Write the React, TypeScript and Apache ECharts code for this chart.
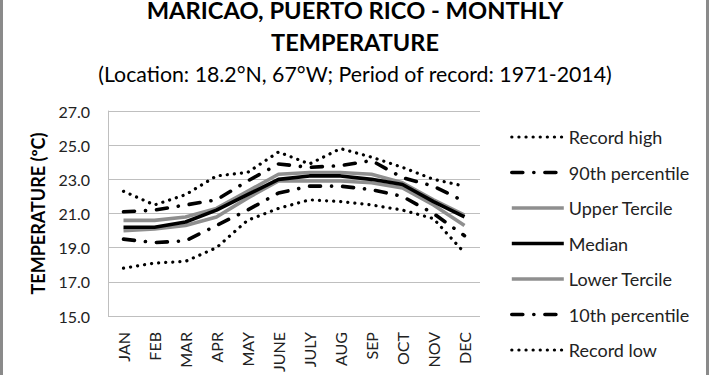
import React, { useEffect, useRef } from "react";
import * as echarts from "echarts";

const categories = ["JAN", "FEB", "MAR", "APR", "MAY", "JUNE", "JULY", "AUG", "SEP", "OCT", "NOV", "DEC"];
const recordHigh = [22.3, 21.5, 22.1, 23.2, 23.4, 24.6, 23.9, 24.8, 24.3, 23.7, 23.0, 22.6];
const p90 = [21.1, 21.2, 21.5, 21.8, 22.9, 23.9, 23.7, 23.8, 24.1, 23.1, 22.6, 21.7];
const upperTercile = [20.6, 20.6, 20.8, 21.3, 22.3, 23.3, 23.4, 23.4, 23.3, 22.8, 21.8, 20.9];
const median = [20.2, 20.2, 20.5, 21.2, 22.1, 23.0, 23.2, 23.2, 23.0, 22.7, 21.7, 20.8];
const lowerTercile = [20.0, 20.1, 20.3, 20.8, 21.9, 22.9, 22.9, 22.9, 22.8, 22.5, 21.5, 20.3];
const p10 = [19.5, 19.3, 19.4, 20.3, 21.2, 22.2, 22.6, 22.6, 22.4, 22.0, 21.0, 19.7];
const recordLow = [17.8, 18.1, 18.2, 19.0, 20.6, 21.3, 21.8, 21.7, 21.5, 21.2, 20.7, 18.7];

const titleLine1 = "MARICAO, PUERTO RICO - MONTHLY";
const titleLine2 = "TEMPERATURE";
const subtitle = "(Location: 18.2°N, 67°W; Period of record: 1971-2014)";
const yAxisTitle = "TEMPERATURE (ºC)";

const FONT = "Lato, 'Open Sans', sans-serif";

export default function App() {
  const ref = useRef<HTMLDivElement>(null);
  useEffect(() => {
    if (!ref.current) return;
    const chart = echarts.init(ref.current, undefined, { renderer: "svg" });
    const dotted = { type: [0.1, 7], cap: "round", width: 3.2, color: "#000" };
    const dashDot = { type: [11, 11, 0.1, 11], cap: "round", width: 3.6, color: "#000" };
    const grayLine = { type: "solid", width: 3.6, color: "#8f8f8f" };
    const blackLine = { type: "solid", width: 3.6, color: "#000" };
    const mk = (name: string, data: number[], ls: any, z: number) => ({
      name,
      type: "line",
      data,
      symbol: "none",
      lineStyle: ls,
      itemStyle: { color: ls.color },
      z,
    });
    chart.setOption({
      animation: false,
      textStyle: { fontFamily: FONT },
      grid: { left: 108, right: 230, top: 111, bottom: 42, containLabel: false },
      xAxis: {
        type: "category",
        data: categories,
        boundaryGap: true,
        axisLine: { show: false },
        axisTick: { show: false },
        axisLabel: { rotate: 90, margin: 16, fontSize: 16, color: "#222", fontFamily: FONT },
        splitLine: { show: false },
      },
      yAxis: {
        type: "value",
        min: 15,
        max: 27,
        interval: 2,
        name: yAxisTitle,
        nameLocation: "middle",
        nameGap: 60,
        nameTextStyle: { fontSize: 18, fontWeight: "bold", color: "#000", fontFamily: FONT },
        axisLine: { show: true, lineStyle: { color: "#bfbfbf", width: 1 } },
        axisTick: { show: false },
        axisLabel: {
          margin: 18,
          fontSize: 16,
          color: "#222",
          fontFamily: FONT,
          formatter: (v: number) => v.toFixed(1),
        },
        splitLine: { show: true, lineStyle: { color: "#bfbfbf", width: 1.2 } },
      },
      legend: {
        orient: "vertical",
        left: 505,
        top: 123,
        itemWidth: 52,
        itemHeight: 14,
        itemGap: 17.5,
        itemStyle: { opacity: 0 },
        lineStyle: { width: "inherit" },
        textStyle: { fontSize: 18, color: "#222", fontFamily: FONT },
        data: ["Record high", "90th percentile", "Upper Tercile", "Median", "Lower Tercile", "10th percentile", "Record low"],
      },
      series: [
        mk("Record high", recordHigh, dotted, 5),
        mk("90th percentile", p90, dashDot, 5),
        mk("Upper Tercile", upperTercile, grayLine, 3),
        mk("Median", median, blackLine, 4),
        mk("Lower Tercile", lowerTercile, grayLine, 3),
        mk("10th percentile", p10, dashDot, 5),
        mk("Record low", recordLow, dotted, 5),
      ],
      graphic: [
        { type: "rect", left: 0, top: 0, shape: { x: 0, y: 0, width: 3, height: 375 }, style: { fill: "#8a8a8a" } },
        { type: "rect", left: 706, top: 0, shape: { x: 0, y: 0, width: 3, height: 375 }, style: { fill: "#8a8a8a" } },
        {
          type: "text",
          x: 355,
          y: 10,
          style: { text: titleLine1, textAlign: "center", textVerticalAlign: "middle", fontSize: 23.7, fontWeight: "bold", fill: "#000", fontFamily: FONT },
        },
        {
          type: "text",
          x: 355,
          y: 42,
          style: { text: titleLine2, textAlign: "center", textVerticalAlign: "middle", fontSize: 23.5, fontWeight: "bold", fill: "#000", fontFamily: FONT },
        },
        {
          type: "text",
          x: 355,
          y: 74,
          style: { text: subtitle, textAlign: "center", textVerticalAlign: "middle", fontSize: 21.3, fill: "#000", fontFamily: FONT },
        },
      ],
    });
    return () => chart.dispose();
  }, []);
  return <div ref={ref} style={{ width: 710, height: 375, position: "absolute", left: 0, top: 0, background: "#fff" }} />;
}
